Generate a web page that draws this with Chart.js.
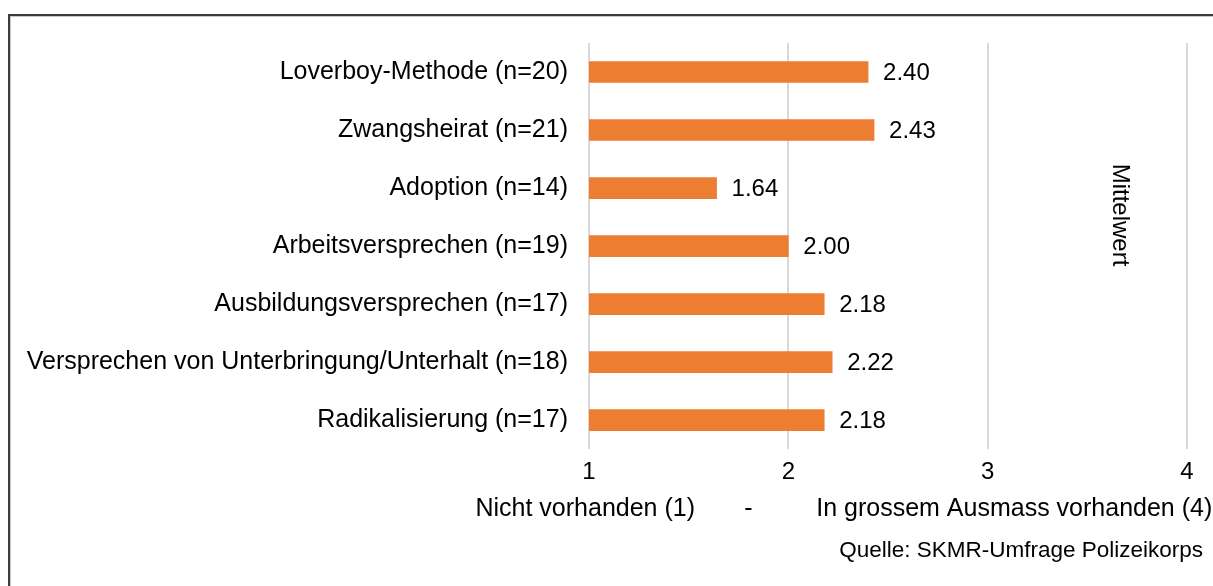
<!DOCTYPE html>
<html>
<head>
<meta charset="utf-8">
<script src="https://cdn.jsdelivr.net/npm/chart.js@4"></script>
<style>
    html, body { margin: 0; padding: 0; background: #fff; }
    #wrap { position: relative; width: 1213px; height: 586px; overflow: hidden; }
    #frame {
        position: absolute; left: 8px; top: 14px; width: 1400px; height: 800px;
        border-top: 2px solid #3c3c3c; border-left: 2px solid #3c3c3c;
        box-shadow: inset 1px 1px 0 #c8c8c8;
    }
    canvas { position: absolute; left: 0; top: 0; }
</style>
</head>
<body>
<div id="wrap">
    <div id="frame"></div>
    <canvas id="chart" width="1213" height="586"></canvas>
</div>
<script>
const categories = [
    "Loverboy-Methode (n=20)",
    "Zwangsheirat (n=21)",
    "Adoption (n=14)",
    "Arbeitsversprechen (n=19)",
    "Ausbildungsversprechen (n=17)",
    "Versprechen von Unterbringung/Unterhalt (n=18)",
    "Radikalisierung (n=17)"
];
const meanValues = [2.40, 2.43, 1.64, 2.00, 2.18, 2.22, 2.18];
const xTicks = [1, 2, 3, 4];

const axisTitleLeft = "Nicht vorhanden (1)";
const axisTitleMid = "-";
const axisTitleRight = "In grossem Ausmass vorhanden (4)";
const seriesTitle = "Mittelwert";
const sourceText = "Quelle: SKMR-Umfrage Polizeikorps";

const FONT = "'Liberation Sans', Arial, sans-serif";

// Value labels at the end of each bar + the extra texts
const extraText = {
    id: "extraText",
    afterDatasetsDraw(chart) {
        const ctx = chart.ctx;
        const meta = chart.getDatasetMeta(0);
        const area = chart.chartArea;
        const xs = chart.scales.x;
        ctx.save();
        ctx.fillStyle = "#000";
        ctx.font = "24px " + FONT;
        ctx.textBaseline = "middle";
        ctx.textAlign = "left";
        meta.data.forEach((bar, i) => {
            ctx.fillText(meanValues[i].toFixed(2), bar.x + 15, bar.y + 1);
        });

        // axis title pieces
        ctx.font = "25px " + FONT;
        const ty = area.bottom + 60;
        ctx.textAlign = "right";
        ctx.fillText(axisTitleLeft, xs.getPixelForValue(1) + 106, ty);
        ctx.textAlign = "center";
        ctx.fillText(axisTitleMid, xs.getPixelForValue(1.8), ty);
        ctx.textAlign = "left";
        ctx.fillText(axisTitleRight, xs.getPixelForValue(2.14), ty);

        // source
        ctx.font = "22.5px " + FONT;
        ctx.textAlign = "right";
        ctx.fillText(sourceText, chart.width - 10, area.bottom + 102);

        // rotated series title
        ctx.font = "24px " + FONT;
        ctx.textAlign = "center";
        ctx.translate(xs.getPixelForValue(3.66), area.top + 172);
        ctx.rotate(Math.PI / 2);
        ctx.fillText(seriesTitle, 0, 0);
        ctx.restore();
    }
};

new Chart(document.getElementById("chart"), {
    type: "bar",
    data: {
        labels: categories,
        datasets: [{
            label: seriesTitle,
            data: meanValues,
            backgroundColor: "#ED7D31",
            barThickness: 21
        }]
    },
    options: {
        indexAxis: "y",
        responsive: false,
        animation: false,
        layout: { padding: { top: 43, right: 26, bottom: 90, left: 0 } },
        plugins: {
            legend: { display: false },
            tooltip: { enabled: false }
        },
        scales: {
            x: {
                min: 1,
                max: 4,
                afterBuildTicks: axis => { axis.ticks = xTicks.map(v => ({ value: v })); },
                grid: { color: "#d9d9d9", lineWidth: 2, drawTicks: false },
                border: { display: false },
                ticks: {
                    color: "#000",
                    padding: 9,
                    font: { family: FONT, size: 24 }
                }
            },
            y: {
                afterFit: axis => { axis.width = 589; },
                grid: { display: false, drawTicks: false },
                border: { display: false },
                ticks: {
                    color: "#000",
                    padding: 21,
                    autoSkip: false,
                    font: { family: FONT, size: 25 }
                }
            }
        }
    },
    plugins: [extraText]
});
</script>
</body>
</html>
